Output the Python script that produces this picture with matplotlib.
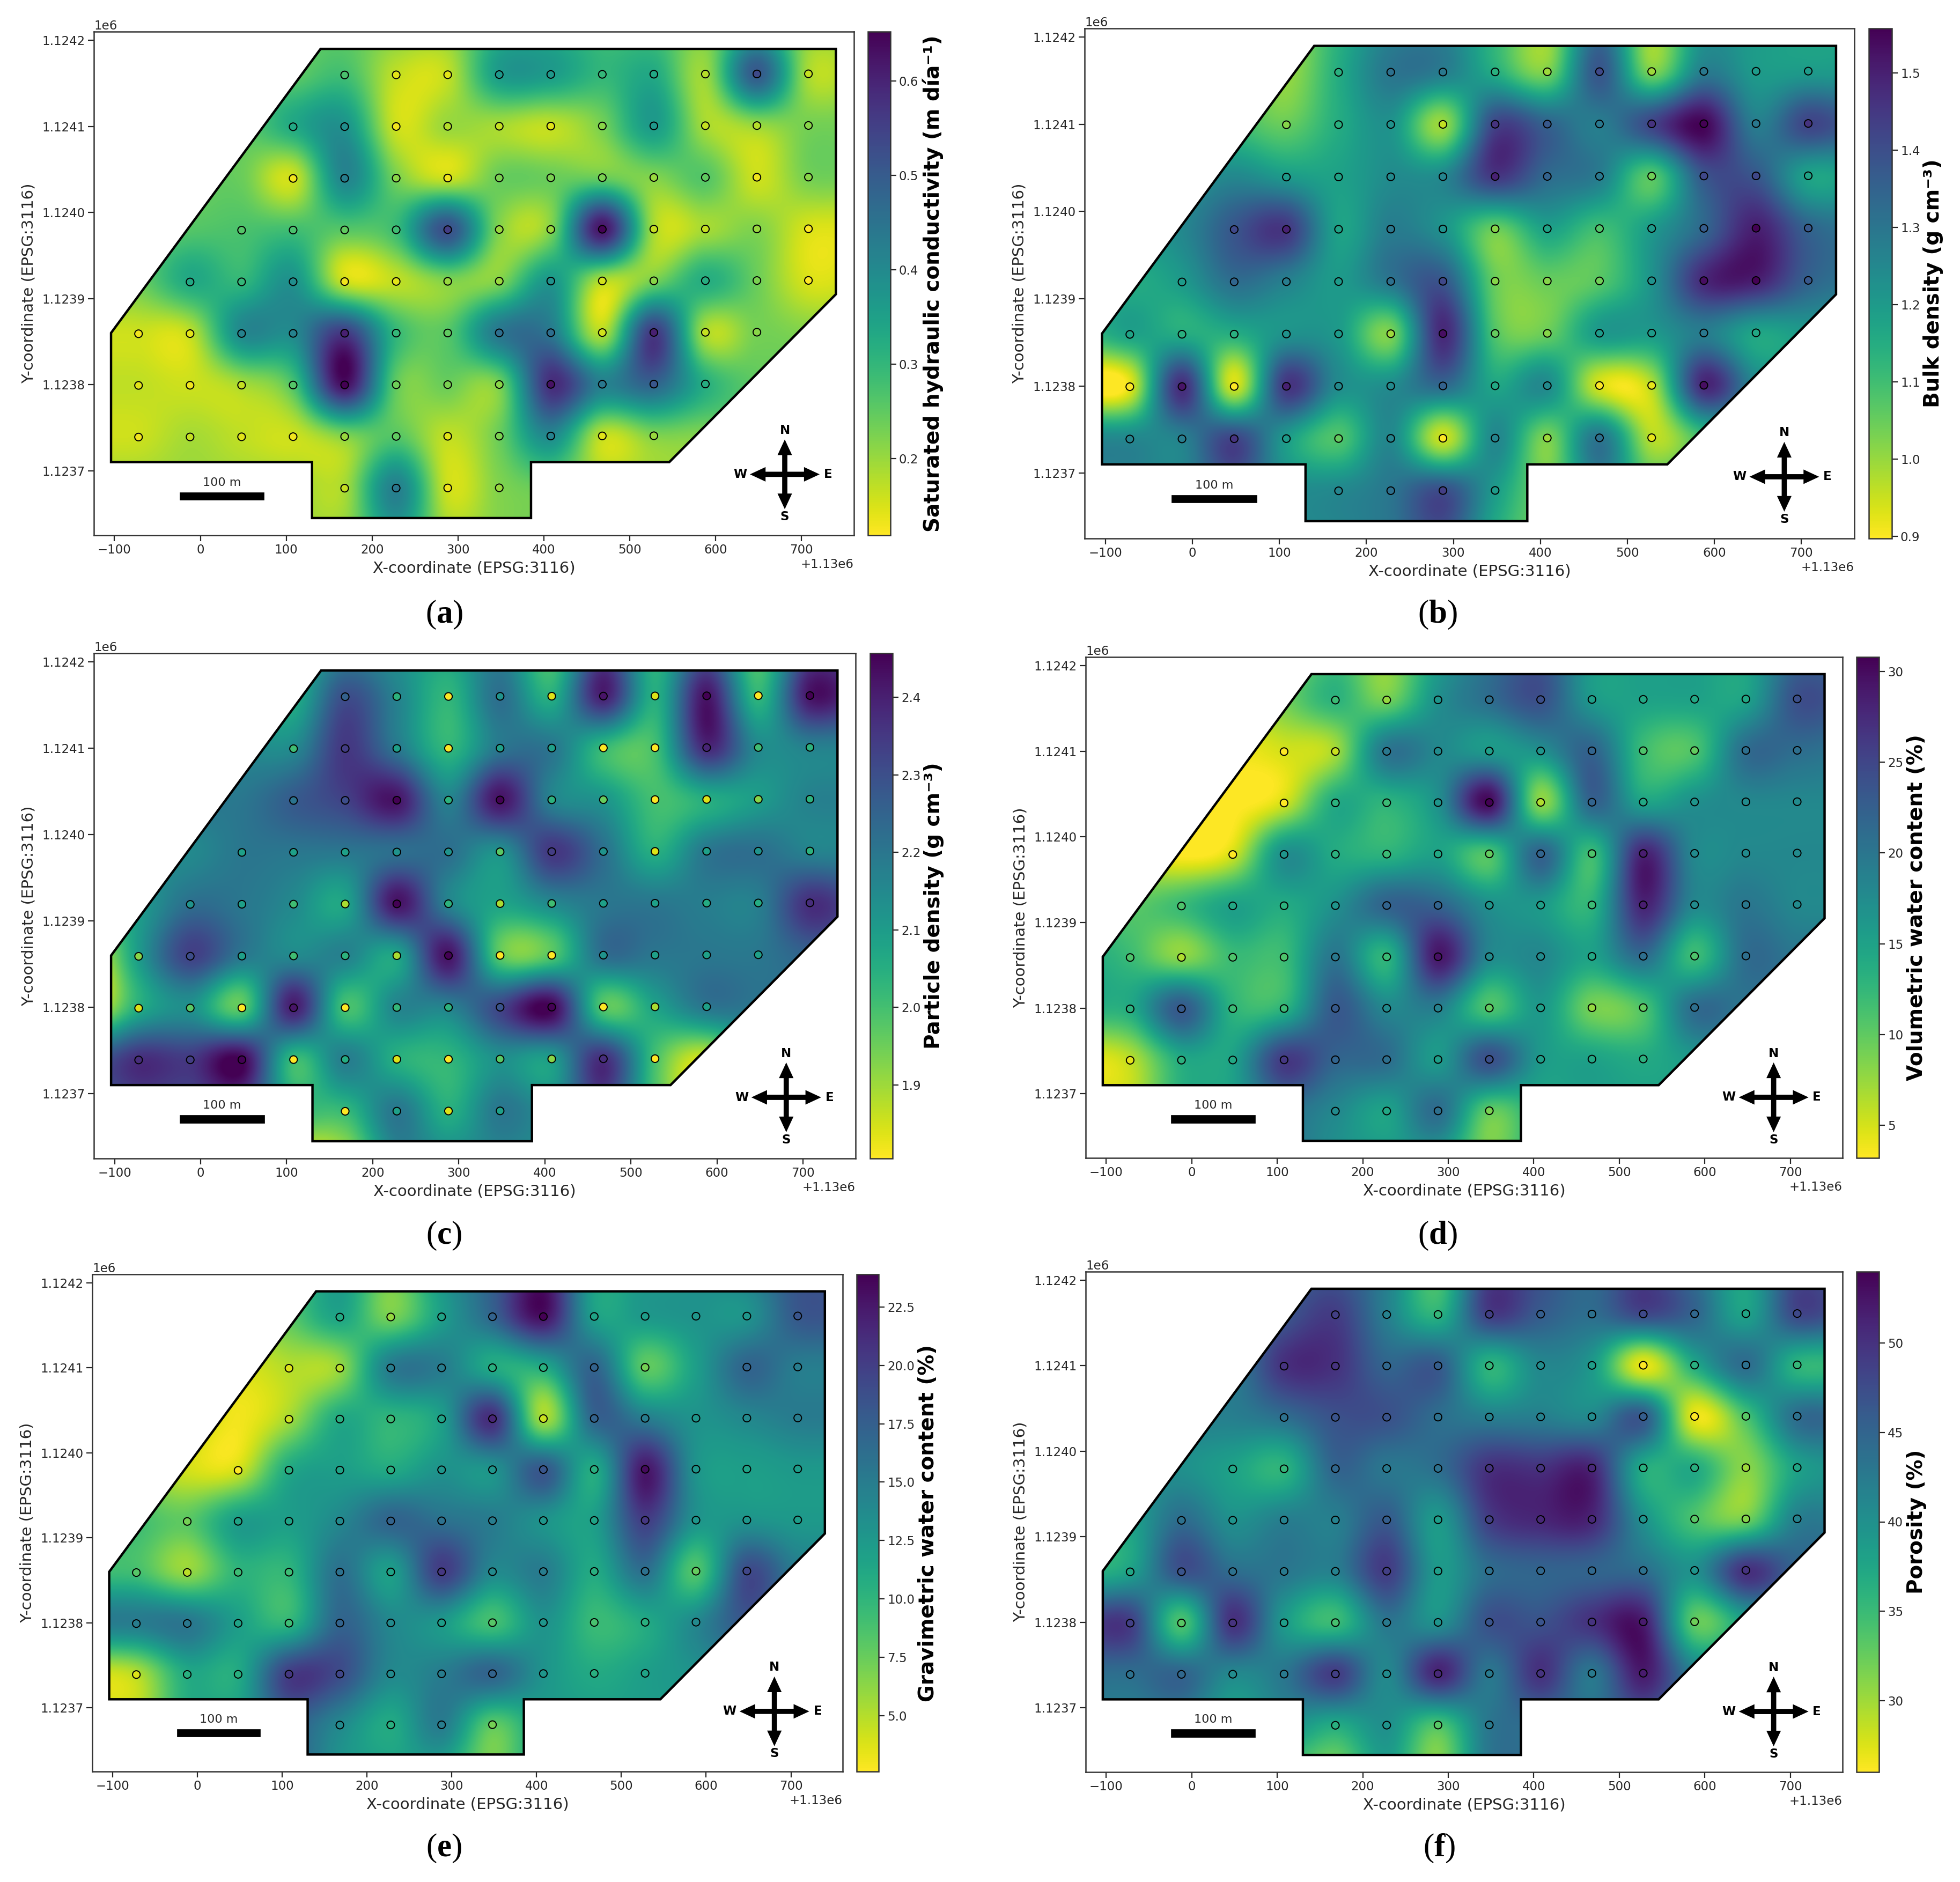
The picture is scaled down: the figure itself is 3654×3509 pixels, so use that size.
import numpy as np
import matplotlib
matplotlib.use("Agg")
import matplotlib.pyplot as plt
from matplotlib.patches import Polygon, Rectangle

plt.rcParams['mathtext.fontset'] = 'custom'
plt.rcParams['mathtext.rm'] = 'Liberation Serif'
plt.rcParams['mathtext.bf'] = 'Liberation Serif:bold'

W, H = 3654, 3509
X0 = 1130000
grid_x = [-132, -72, -12, 48, 108, 168, 228, 288, 348, 408, 468, 528, 588, 648, 708, 768]
grid_y = [1124220, 1124160, 1124100, 1124040, 1123980, 1123920, 1123860, 1123800, 1123740, 1123680, 1123620]
# first and last column index of the sampled points on each row of grid_y (None: no samples)
sample_span = [None, (5, 14), (4, 14), (4, 14), (3, 14), (2, 14), (1, 13), (1, 12), (1, 11), (5, 8), None]

boundary_x = [-104, 130, 130, 385, 385, 546, 740, 740, 140, -104]
boundary_y = [1123710, 1123710, 1123645, 1123645, 1123710, 1123710, 1123905, 1124190, 1124190, 1123860]

sat_k = [
 [.25,.25,.25,.25,.25,.25,.23,.22,.30,.31,.28,.27,.23,.30,.22,.22],
 [.25,.25,.25,.25,.25,.28,.17,.17,.36,.36,.30,.33,.20,.50,.19,.20],
 [.25,.25,.25,.25,.33,.38,.16,.20,.19,.17,.23,.36,.19,.20,.23,.23],
 [.24,.24,.24,.24,.16,.41,.23,.16,.24,.24,.24,.22,.26,.16,.23,.23],
 [.24,.24,.26,.27,.28,.26,.29,.52,.22,.22,.62,.19,.19,.22,.15,.15],
 [.24,.24,.33,.30,.38,.16,.17,.22,.22,.37,.18,.23,.32,.24,.15,.16],
 [.16,.16,.17,.40,.40,.56,.30,.26,.44,.44,.18,.56,.19,.23,.22,.22],
 [.17,.17,.16,.19,.27,.63,.25,.24,.23,.58,.42,.48,.32,.25,.25,.25],
 [.16,.16,.19,.17,.16,.22,.26,.17,.24,.40,.17,.22,.22,.25,.25,.25],
 [.20,.20,.20,.20,.20,.19,.42,.16,.22,.24,.20,.20,.20,.20,.20,.20],
 [.20,.20,.20,.20,.20,.21,.35,.20,.22,.24,.20,.20,.20,.20,.20,.20],
]
bulk_density = [
 [1.10,1.10,1.10,1.10,1.00,1.13,1.25,1.25,1.13,1.00,1.30,1.00,1.22,1.20,1.18,1.18],
 [1.10,1.10,1.10,1.10,1.00,1.15,1.30,1.28,1.15,1.03,1.38,1.03,1.28,1.20,1.20,1.20],
 [1.10,1.10,1.10,1.10,1.05,1.15,1.22,1.00,1.42,1.35,1.28,1.42,1.55,1.28,1.42,1.35],
 [1.20,1.20,1.20,1.25,1.20,1.18,1.24,1.25,1.45,1.33,1.28,1.07,1.38,1.38,1.18,1.20],
 [1.20,1.20,1.25,1.38,1.45,1.18,1.28,1.22,1.05,1.18,1.10,1.20,1.34,1.50,1.35,1.30],
 [1.15,1.15,1.20,1.32,1.27,1.20,1.30,1.38,1.05,1.05,1.07,1.22,1.48,1.50,1.35,1.30],
 [1.10,1.18,1.15,1.15,1.22,1.20,1.03,1.48,1.08,1.05,1.20,1.20,1.28,1.17,1.20,1.20],
 [0.88,0.92,1.47,0.94,1.45,1.24,1.24,1.33,1.17,1.24,0.94,0.97,1.48,1.25,1.20,1.20],
 [1.25,1.25,1.27,1.42,1.20,1.08,1.25,0.95,1.25,1.03,1.30,0.97,1.10,1.20,1.20,1.20],
 [1.25,1.25,1.27,1.35,1.25,1.25,1.30,1.40,1.20,1.05,1.25,1.10,1.20,1.20,1.20,1.20],
 [1.25,1.25,1.27,1.30,1.25,1.25,1.30,1.38,1.15,1.05,1.25,1.10,1.20,1.20,1.20,1.20],
]
particle_density = [
 [2.10,2.10,2.10,2.10,2.05,2.15,2.12,2.08,2.17,1.98,2.30,2.03,2.25,1.98,2.30,2.28],
 [2.10,2.10,2.10,2.10,2.05,2.30,2.17,2.03,2.22,2.05,2.40,2.05,2.42,2.03,2.42,2.35],
 [2.15,2.15,2.15,2.15,2.15,2.35,2.20,2.03,2.20,2.20,2.02,2.00,2.38,2.15,2.17,2.17],
 [2.20,2.20,2.20,2.20,2.27,2.33,2.42,2.17,2.42,2.17,2.12,2.00,2.05,2.10,2.17,2.17],
 [2.10,2.15,2.15,2.20,2.20,2.20,2.22,2.22,2.13,2.35,2.22,2.05,2.20,2.22,2.17,2.17],
 [2.05,2.10,2.22,2.20,2.15,2.08,2.42,2.17,2.08,2.15,2.20,2.20,2.18,2.18,2.37,2.30],
 [1.80,2.10,2.33,2.20,2.15,2.17,2.08,2.42,1.97,1.98,2.22,2.20,2.20,2.20,2.25,2.25],
 [1.80,2.05,2.13,1.97,2.40,2.00,2.16,2.17,2.32,2.45,1.98,2.08,2.20,2.20,2.20,2.20],
 [2.25,2.37,2.35,2.45,2.02,2.18,2.05,2.03,2.13,2.10,2.37,2.00,1.85,2.10,2.20,2.20],
 [2.25,2.30,2.30,2.30,2.05,2.02,2.20,2.05,2.20,2.15,2.30,2.00,1.85,2.10,2.20,2.20],
 [2.25,2.30,2.30,2.30,1.85,1.88,2.15,2.15,2.15,2.15,2.25,2.05,2.00,2.10,2.20,2.20],
]
vol_water = [
 [ 8, 8, 8, 7, 7,11, 8,15,20,23,16,15,15,15,21,21],
 [ 8, 8, 8, 6, 9,13, 9,17,21,24,16,15,15,15,24,23],
 [ 6, 6, 6, 4, 5, 7,20,18,16,17,22,12,11,21,21,20],
 [ 5, 5, 5, 3, 5,14,13,17,30, 8,22,15,17,18,18,18],
 [ 6, 6, 3, 5,17,14,13,15,11,22,12,28,18,18,18,18],
 [10,10,12,15,14,17,22,22,17,16,13,28,18,20,18,18],
 [14,12, 8,12,12,20,13,29,18,18,15,21,12,21,20,20],
 [14,14,23,13,13,23,18,19,11,16, 9,11,21,20,20,20],
 [ 4, 6,14,15,26,22,21,16,24,16,15,14,16,18,18,18],
 [ 6, 6,14,15,20,18,15,21,10,14,15,15,15,15,15,15],
 [ 6, 6,14,15,20,17,16,15, 9,14,15,15,15,15,15,15],
]
grav_water = [
 [ 8, 8, 8, 7, 8,12,7.5,13,17,22,12,12,13,15,18,18],
 [ 8, 8, 8, 6, 8,11.5,7,12,17,23,12,12.5,13,13,18,18],
 [ 6, 6, 6, 4, 5, 6,15,15,11,11,17, 8,12,17,15,15],
 [ 5, 5, 5, 3,5.5,11,10,12,21,5.5,17,15,13,14,15,15],
 [ 6, 6, 4, 4,11,12,11,13,13,18,11,22.5,13,12,12.5,12.5],
 [ 9, 9, 8,12,12,14,17,16,15,13,12,20,13,13,12.5,12.5],
 [ 9, 9, 6,10,10,16,12,20,14,15,11,16,8.5,19,15,15],
 [15,15,15.5,12,10,17,14,12.5,9,13,9.5,11,14,18,15,15],
 [ 4, 5,11,11,20,19,14,15,17,13,11,12,13,14,14,14],
 [ 5, 5,11,12,17,14,11,15, 8,12,12,12,12,12,12,12],
 [ 5, 5,11,12,17,13,12,11, 7,12,12,12,12,12,12,12],
]
porosity = [
 [40,40,40,40,44,46,42,34,48,47,44,48,43,38,47,45],
 [40,40,40,40,46,49,42,36,49,46,44,48,45,38,48,46],
 [42,42,42,42,50,50,45,46,36,41,39,27,37,44,36,36],
 [42,42,42,42,44,47,47,44,42,42,41,46,27,34,44,44],
 [40,40,40,38,36,45,43,44,50,50,51,37,37,31,38,40],
 [38,38,44,40,42,42,46,39,49,51,51,40,34,32,42,42],
 [36,38,47,44,43,42,49,39,44,45,45,44,40,50,45,45],
 [48,49,34,50,39,35,43,40,47,47,50,52,33,38,42,42],
 [44,44,45,41,43,49,41,51,43,50,43,52,42,42,42,42],
 [42,42,42,38,40,37,40,34,43,44,44,46,42,42,42,42],
 [42,42,42,38,34,31,38,31,43,44,44,44,42,42,42,42],
]

surfaces = [sat_k, bulk_density, particle_density, vol_water, grav_water, porosity]
color_min = [0.119, 0.897, 1.805, 3.2, 2.6, 26.0]
color_max = [0.652, 1.558, 2.457, 30.8, 23.9, 54.0]
sample_min = [0.15, 0.95, 2.03, 5.0, 4.0, 27.0]
sample_max = [0.60, 1.50, 2.42, 30.0, 23.0, 54.0]
color_ticks = [[.2, .3, .4, .5, .6],
               [.9, 1.0, 1.1, 1.2, 1.3, 1.4, 1.5],
               [1.9, 2.0, 2.1, 2.2, 2.3, 2.4],
               [5, 10, 15, 20, 25, 30],
               [5.0, 7.5, 10.0, 12.5, 15.0, 17.5, 20.0, 22.5],
               [30, 35, 40, 45, 50]]
color_labels = ['Saturated hydraulic conductivity (m día⁻¹)', 'Bulk density (g cm⁻³)',
                'Particle density (g cm⁻³)', 'Volumetric water content (%)',
                'Gravimetric water content (%)', 'Porosity (%)']
panel_tags = ['a', 'b', 'c', 'd', 'e', 'f']

# pixel boxes: left, right, top, bottom, colourbar left, colourbar right, label x
boxes = [(175, 1592, 59, 998, 1618, 1660, 1739),
         (2022, 3457, 53, 1004, 3484, 3527, 3604),
         (175, 1595, 1218, 2160, 1622, 1664, 1741),
         (2024, 3435, 1225, 2159, 3461, 3503, 3573),
         (172, 1571, 2376, 3303, 1597, 1638, 1730),
         (2024, 3435, 2371, 3304, 3461, 3503, 3573)]
tag_pos = [(828, 1146), (2680, 1146), (828, 2304), (2680, 2304), (828, 3446), (2683, 3446)]

fig = plt.figure(figsize=(W / 100, H / 100), dpi=100)
TICK = 16.5
LABEL = 21
INK = '#262626'
cmap = plt.get_cmap('viridis_r')
gx = np.array(grid_x, float) + X0
gy = np.array(grid_y, float)
outline = np.column_stack([np.array(boundary_x, float) + X0, boundary_y])

for i, grid in enumerate(surfaces):
    L, R, T, B, CL, CR, LX = boxes[i]
    ax = fig.add_axes([L / W, 1 - B / H, (R - L) / W, (B - T) / H])
    cax = fig.add_axes([CL / W, 1 - B / H, (CR - CL) / W, (B - T) / H])
    values = np.array(grid, float)
    im = ax.imshow(values, cmap=cmap, vmin=color_min[i], vmax=color_max[i], interpolation='catrom',
                   extent=(gx[0] - 30, gx[-1] + 30, gy[-1] - 30, gy[0] + 30), origin='upper', aspect='auto')
    poly = Polygon(outline, closed=True, fc='none', ec='k', lw=3.2, joinstyle='miter', zorder=3)
    ax.add_patch(poly)
    im.set_clip_path(poly)

    px, py, pv = [], [], []
    for r, span in enumerate(sample_span):
        if span is None:
            continue
        for c in range(span[0], span[1] + 1):
            if i == 4 and r == 2 and c == 12:
                continue
            px.append(gx[c])
            py.append(gy[r] + 0.0025 * (grid_x[c] - 300))
            pv.append(values[r, c])
    ax.scatter(px, py, c=pv, s=105, cmap=cmap, vmin=sample_min[i], vmax=sample_max[i],
               edgecolors='k', linewidths=1.4, zorder=4)

    ax.set_xlim(X0 - 124, X0 + 761)
    ax.set_ylim(1123625, 1124210)
    ax.set_xlabel('X-coordinate (EPSG:3116)', fontsize=LABEL, color=INK, labelpad=6)
    ax.set_ylabel('Y-coordinate (EPSG:3116)', fontsize=LABEL, color=INK, labelpad=8)
    ax.tick_params(labelsize=TICK, length=8, width=1.6, colors=INK)
    ax.xaxis.get_offset_text().set_fontsize(TICK)
    ax.yaxis.get_offset_text().set_fontsize(TICK)
    ax.xaxis.get_offset_text().set_color(INK)
    ax.yaxis.get_offset_text().set_color(INK)
    for s in ax.spines.values():
        s.set_linewidth(1.8)
        s.set_color('#333333')

    # scale bar
    ax.add_patch(Rectangle((X0 - 24, 1123666), 98, 9, fc='k', ec='k', lw=0.5, zorder=4))
    ax.text(X0 + 25, 1123680, '100 m', ha='center', va='bottom', fontsize=16, color=INK)

    # north arrow
    c0 = (0.909, 0.121)
    ax_w, ax_h = R - L, B - T
    ends = [(0, 65), (0, -65), (65, 0), (-65, 0)]
    for dx, dy in ends:
        ax.annotate('', xy=(c0[0] + dx / ax_w, c0[1] + dy / ax_h), xytext=c0, xycoords='axes fraction',
                    arrowprops=dict(width=7, headwidth=19.5, headlength=21, color='k', shrink=0, lw=0), zorder=5)
    for name, ox, oy in [('N', 0, 59), ('S', 0, -57), ('E', 58, 0), ('W', -60, 0)]:
        ax.annotate(name, xy=c0, xycoords='axes fraction', xytext=(ox, oy), textcoords='offset points',
                    ha='center', va='center', fontsize=16.5, fontweight='bold', color='k')

    cb = fig.colorbar(im, cax=cax, ticks=color_ticks[i])
    cb.ax.tick_params(labelsize=TICK, length=8, width=1.6, colors=INK)
    cb.outline.set_linewidth(1.8)
    cb.outline.set_edgecolor('#333333')
    fig.text(LX / W, 1 - (T + B) / 2 / H, color_labels[i], rotation=90, ha='center', va='center',
             fontsize=28, fontweight='bold', color='k')

    tx, ty = tag_pos[i]
    fig.text(tx / W, 1 - ty / H, '(' + r'$\mathbf{' + panel_tags[i] + '}$' + ')', ha='center', va='center',
             fontsize=44, family='Liberation Serif', color='k')

fig.savefig('out.png', dpi=100)
